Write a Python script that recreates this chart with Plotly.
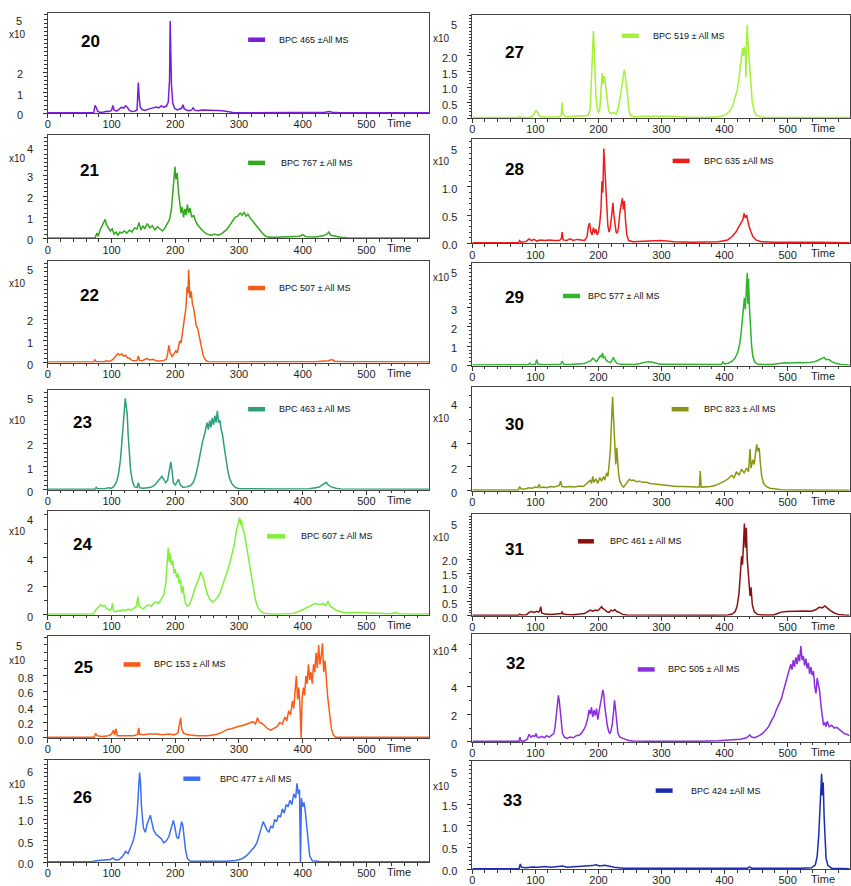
import plotly.graph_objects as go

# ---------------- chromatogram traces: (time, intensity) ----------------
P20 = [(0,0.02),(72,0.02),(74,0.38),(76,0.28),(78,0.1),(82,0.04),(88,0.06),(92,0.1),(96,0.08),(100,0.14),
       (102,0.38),(104,0.16),(108,0.1),(112,0.18),(116,0.3),(119,0.24),(122,0.36),(125,0.28),(128,0.14),
       (132,0.08),(136,0.1),(140,0.16),(142,1.5),(143.5,0.7),(145,0.3),(148,0.18),(152,0.14),(158,0.2),
       (164,0.24),(170,0.3),(174,0.26),(178,0.36),(182,0.3),(186,0.34),(189,0.55),(191,1.6),(192,4.5),
       (193,3.1),(194,1.4),(196,0.5),(199,0.24),(203,0.16),(207,0.2),(210,0.24),(212,0.42),(214,0.22),
       (218,0.14),(222,0.12),(226,0.16),(228,0.26),(231,0.14),(236,0.12),(242,0.16),(250,0.14),(258,0.15),
       (266,0.13),(274,0.12),(280,0.1),(286,0.06),(292,0.02),(330,0.02),(380,0.02),(395,0.04),(405,0.05),
       (415,0.03),(425,0.04),(435,0.05),(442,0.08),(446,0.05),(455,0.03),(465,0.02),(598,0.02)]

P21 = [(0,0.02),(74,0.02),(77,0.25),(79,0.1),(82,0.4),(85,0.6),(88,0.75),(90,0.9),(92,0.65),(95,0.5),
       (98,0.35),(101,0.45),(104,0.2),(107,0.3),(110,0.15),(113,0.3),(116,0.25),(120,0.35),(124,0.25),
       (128,0.4),(132,0.3),(136,0.5),(140,0.45),(143,0.75),(146,0.4),(149,0.6),(152,0.45),(156,0.7),
       (160,0.5),(164,0.6),(168,0.4),(172,0.55),(176,0.45),(180,0.35),(184,0.5),(188,0.7),(191,0.9),
       (194,1.4),(196,2.2),(198,3.0),(199.5,3.4),(201,2.8),(203,3.1),(205,2.2),(207,1.6),(209,1.2),
       (211,1.5),(213,1.0),(215,1.4),(217,1.1),(219,1.6),(221,1.2),(223,1.45),(226,1.0),(229,1.1),
       (232,0.8),(236,0.6),(240,0.45),(245,0.3),(250,0.2),(256,0.15),(262,0.2),(268,0.15),(274,0.25),
       (280,0.4),(285,0.6),(290,0.8),(294,1.0),(298,1.05),(302,1.2),(305,1.1),(308,1.25),(311,1.05),
       (314,1.15),(318,0.95),(322,0.8),(326,0.6),(330,0.45),(334,0.3),(338,0.2),(342,0.1),(348,0.05),
       (360,0.05),(380,0.06),(395,0.1),(400,0.18),(405,0.08),(420,0.07),(432,0.12),(438,0.2),(441,0.3),
       (444,0.15),(452,0.1),(460,0.05),(470,0.03),(598,0.02)]

P22 = [(0,0.02),(72,0.02),(74,0.12),(76,0.04),(88,0.04),(92,0.08),(96,0.05),(100,0.1),(104,0.2),(107,0.3),
       (110,0.42),(113,0.35),(116,0.4),(119,0.3),(122,0.34),(125,0.22),(128,0.2),(132,0.1),(136,0.08),
       (140,0.1),(142,0.3),(144,0.1),(148,0.08),(152,0.14),(156,0.18),(160,0.12),(165,0.15),(170,0.08),
       (176,0.07),(182,0.1),(186,0.15),(188,0.4),(190,0.8),(192,0.45),(195,0.28),(198,0.4),(201,0.55),
       (203,0.45),(205,0.75),(207,1.0),(209,0.9),(211,1.3),(213,1.6),(215,2.1),(217,2.6),(218.5,3.5),
       (220,3.2),(221,4.3),(222,3.8),(223,3.0),(225,3.3),(227,2.7),(229,2.5),(231,2.1),(233,1.7),
       (235,1.6),(237,1.3),(239,0.9),(241,0.6),(244,0.3),(248,0.1),(252,0.04),(300,0.03),(360,0.03),
       (420,0.04),(440,0.08),(446,0.14),(450,0.06),(470,0.04),(520,0.04),(555,0.03),(598,0.02)]

P23 = [(0,0.02),(74,0.02),(76,0.1),(78,0.04),(90,0.05),(96,0.08),(100,0.06),(104,0.15),(108,0.35),
       (111,0.7),(114,1.3),(116,1.9),(118,2.6),(120,3.4),(121.5,3.95),(123,3.6),(124.5,3.3),(126,2.4),
       (128,1.5),(130,0.8),(133,0.35),(136,0.12),(140,0.1),(142,0.3),(144,0.08),(150,0.06),(156,0.08),
       (162,0.1),(168,0.2),(172,0.35),(176,0.45),(179,0.58),(182,0.45),(185,0.3),(188,0.4),(191,1.0),
       (193,1.2),(195,0.8),(197,0.3),(200,0.2),(203,0.35),(205,0.45),(208,0.2),(212,0.1),(218,0.12),
       (224,0.18),(228,0.3),(232,0.6),(236,1.1),(240,1.7),(243,2.1),(246,2.4),(248,2.6),(250,2.9),
       (252,2.6),(254,3.0),(256,2.7),(258,3.1),(260,2.8),(262,3.2),(264,2.9),(266,3.4),(268,2.9),
       (270,3.0),(272,2.6),(274,2.4),(276,2.0),(279,1.4),(282,0.9),(285,0.5),(289,0.25),(294,0.1),
       (300,0.04),(360,0.03),(410,0.04),(425,0.1),(432,0.22),(437,0.32),(440,0.2),(445,0.12),(452,0.06),
       (460,0.03),(598,0.02)]

P24 = [(0,0.05),(72,0.05),(74,0.25),(77,0.45),(80,0.55),(83,0.7),(86,0.6),(89,0.65),(92,0.45),(95,0.35),
       (98,0.3),(100,0.5),(101.5,0.8),(103,0.3),(106,0.2),(110,0.3),(114,0.25),(118,0.35),(122,0.3),
       (126,0.4),(130,0.3),(134,0.45),(138,0.5),(140,0.9),(141.5,1.25),(143,0.6),(146,0.5),(150,0.4),
       (154,0.6),(158,0.7),(162,0.6),(166,0.8),(170,0.9),(174,0.8),(178,1.1),(182,1.4),(185,2.2),
       (187,3.3),(189,4.7),(190.5,3.7),(192,4.3),(194,3.5),(196,3.8),(198,2.9),(200,3.2),(202,2.6),
       (204,2.9),(206,2.2),(208,2.5),(210,1.5),(212,2.0),(214,1.3),(216,0.8),(219,0.6),(222,0.7),
       (225,1.0),(228,1.5),(231,1.9),(234,2.2),(237,2.5),(240,3.0),(242,2.8),(244,2.6),(247,2.0),
       (250,1.5),(254,1.1),(258,0.9),(262,1.0),(266,1.2),(270,1.5),(274,2.0),(278,2.6),(282,3.1),
       (286,3.7),(290,4.4),(293,5.0),(296,5.9),(299,6.4),(301,6.8),(302.5,6.3),(304,6.6),(306,6.0),
       (308,5.8),(310,5.3),(313,4.5),(316,3.6),(319,2.6),(322,1.8),(326,1.0),(330,0.5),(334,0.25),
       (340,0.1),(350,0.06),(370,0.06),(385,0.1),(395,0.25),(402,0.4),(408,0.55),(414,0.7),(420,0.8),
       (426,0.7),(432,0.8),(436,0.65),(440,0.95),(443,0.6),(448,0.45),(454,0.3),(460,0.2),(470,0.15),
       (480,0.17),(495,0.15),(510,0.12),(525,0.1),(540,0.08),(546,0.18),(550,0.08),(570,0.05),(590,0.04),
       (598,0.05)]

P25 = [(0,0.01),(73,0.01),(75,0.06),(77,0.03),(85,0.02),(95,0.03),(100,0.05),(103,0.1),(105,0.04),
       (107,0.12),(109,0.03),(120,0.03),(135,0.03),(141,0.05),(142.5,0.13),(144,0.05),(150,0.04),
       (160,0.05),(170,0.05),(180,0.04),(190,0.05),(198,0.04),(204,0.06),(207,0.2),(208.5,0.26),
       (210,0.12),(213,0.06),(220,0.04),(235,0.03),(250,0.03),(262,0.04),(270,0.06),(276,0.09),
       (282,0.11),(288,0.12),(294,0.14),(300,0.15),(306,0.16),(312,0.18),(318,0.19),(322,0.21),
       (326,0.18),(329,0.26),(332,0.2),(336,0.19),(340,0.16),(345,0.12),(350,0.1),(355,0.12),(360,0.15),
       (364,0.2),(368,0.18),(372,0.27),(375,0.22),(378,0.35),(381,0.3),(384,0.48),(386,0.38),(388,0.6),
       (390,0.8),(392,0.5),(394,0.65),(396,0.35),(397.5,0.0),(399,0.5),(401,0.65),(403,0.55),(405,0.8),
       (407,0.7),(409,0.95),(411,0.75),(413,0.85),(415,0.7),(417,0.95),(419,0.85),(421,1.1),(423,0.9),
       (425,1.2),(427,0.95),(429,1.05),(431,1.22),(433,0.85),(435,1.0),(437,0.7),(439,0.55),(441,0.4),
       (443,0.25),(445,0.12),(448,0.04),(452,0.01),(598,0.01)]

P26 = [(0,0.01),(70,0.01),(75,0.03),(90,0.04),(98,0.06),(102,0.1),(106,0.05),(112,0.06),(118,0.15),
       (122,0.25),(126,0.2),(130,0.35),(134,0.5),(137,0.7),(140,1.1),(142,1.6),(144,2.1),(145.5,1.85),
       (147,1.3),(150,0.8),(153,0.7),(156,0.9),(159,1.05),(161,1.1),(163,0.95),(166,0.75),(170,0.65),
       (174,0.6),(178,0.55),(182,0.45),(186,0.5),(190,0.6),(194,0.8),(197,0.98),(199,0.85),(202,0.6),
       (205,0.55),(208,0.8),(210,0.95),(212,0.85),(214,0.6),(216,0.3),(219,0.08),(224,0.02),(280,0.02),
       (295,0.04),(305,0.08),(312,0.15),(318,0.25),(324,0.35),(328,0.45),(332,0.65),(335,0.8),(338,0.95),
       (341,0.85),(344,0.75),(347,0.7),(350,0.85),(353,0.8),(356,1.0),(359,0.95),(362,1.1),(365,1.05),
       (368,1.25),(371,1.15),(374,1.35),(377,1.3),(380,1.45),(383,1.35),(386,1.6),(389,1.5),(391,1.85),
       (393,1.6),(395,1.7),(396.5,0.0),(398,1.5),(400,1.3),(402,1.4),(404,1.2),(406,0.9),(408,0.5),
       (411,0.15),(415,0.03),(430,0.01),(598,0.01)]

P27 = [(0,0.02),(73,0.02),(75,0.06),(77,0.02),(92,0.03),(96,0.08),(99,0.18),(101,0.24),(103,0.2),
       (106,0.08),(110,0.04),(125,0.04),(138,0.05),(141,0.1),(142.5,0.5),(144,0.12),(148,0.05),(160,0.06),
       (170,0.08),(178,0.07),(184,0.1),(187,0.3),(189,1.2),(190.5,2.2),(192,2.8),(193,2.4),(194.5,1.5),
       (196,0.7),(198,0.3),(200,0.2),(202,0.25),(204,0.9),(206,1.45),(207.5,1.1),(209,1.35),(210.5,1.2),
       (212,0.9),(214,0.5),(216,0.25),(219,0.15),(224,0.18),(228,0.14),(231,0.3),(234,0.6),(237,1.0),
       (239,1.35),(241,1.55),(243,1.3),(245,0.9),(247,0.5),(249,0.2),(252,0.07),(258,0.05),(270,0.06),
       (290,0.07),(310,0.06),(325,0.05),(340,0.03),(380,0.03),(395,0.06),(402,0.12),(408,0.22),(413,0.4),
       (417,0.65),(420,0.9),(423,1.3),(425,1.6),(427,2.0),(428.5,2.25),(430,2.0),(431.5,2.3),(433,2.1),
       (434,1.3),(435,2.5),(436,3.0),(437,2.5),(438.5,2.1),(440,1.4),(442,0.9),(444,0.5),(447,0.25),
       (450,0.1),(456,0.05),(465,0.02),(598,0.02)]

P28 = [(0,0.01),(73,0.01),(75,0.05),(77,0.02),(85,0.03),(90,0.08),(94,0.05),(98,0.07),(102,0.04),
       (108,0.06),(115,0.05),(122,0.06),(130,0.05),(138,0.05),(141,0.08),(142.5,0.2),(144,0.06),(150,0.05),
       (155,0.08),(160,0.05),(166,0.07),(172,0.06),(178,0.05),(182,0.12),(184,0.3),(186,0.36),(188,0.2),
       (190,0.15),(192,0.28),(194,0.18),(196,0.25),(198,0.15),(200,0.2),(202,0.35),(204,0.6),(205.5,1.1),
       (207,0.9),(208.5,1.68),(210,1.3),(211.5,0.9),(213,0.6),(215,0.3),(217,0.2),(219,0.3),(221,0.5),
       (223,0.72),(224.5,0.5),(226,0.4),(228,0.2),(230,0.18),(232,0.3),(234,0.55),(236,0.7),(238,0.8),
       (239.5,0.6),(241,0.75),(243,0.4),(245,0.15),(248,0.05),(255,0.03),(280,0.04),(300,0.05),(320,0.03),
       (350,0.02),(390,0.03),(405,0.06),(412,0.12),(418,0.2),(422,0.28),(426,0.35),(429,0.42),(431,0.53),
       (433,0.45),(435,0.5),(437,0.38),(439,0.3),(442,0.2),(445,0.12),(450,0.06),(458,0.03),(480,0.02),
       (530,0.02),(545,0.03),(550,0.02),(598,0.01)]

P29 = [(0,0.03),(76,0.03),(80,0.05),(88,0.04),(91,0.12),(94,0.04),(100,0.06),(102,0.3),(104,0.08),
       (112,0.04),(130,0.05),(140,0.06),(142.5,0.22),(145,0.06),(155,0.05),(170,0.06),(178,0.1),(184,0.2),
       (188,0.25),(191,0.38),(194,0.3),(197,0.2),(200,0.35),(203,0.5),(205,0.45),(206.5,0.65),(208,0.4),
       (210,0.45),(212,0.3),(215,0.2),(219,0.15),(222,0.3),(224,0.42),(226,0.25),(229,0.12),(235,0.06),
       (245,0.05),(258,0.05),(266,0.1),(272,0.15),(278,0.2),(284,0.18),(290,0.12),(298,0.07),(310,0.06),
       (330,0.05),(360,0.05),(385,0.05),(395,0.07),(397.5,0.18),(400,0.08),(406,0.12),(412,0.22),
       (417,0.4),(421,0.7),(424,1.1),(426,1.6),(428,2.2),(430,3.0),(431.5,3.5),(433,2.9),(434.5,3.7),
       (436,4.8),(437,3.2),(438,4.5),(439.5,3.0),(441,2.0),(443,1.0),(445,0.45),(448,0.18),(452,0.08),
       (460,0.05),(475,0.05),(482,0.08),(488,0.12),(495,0.14),(505,0.13),(515,0.16),(525,0.14),
       (535,0.15),(545,0.22),(550,0.3),(555,0.35),(558,0.42),(561,0.3),(565,0.32),(570,0.2),(576,0.12),
       (585,0.05),(598,0.03)]

P30 = [(0,0.05),(73,0.05),(75,0.35),(77,0.15),(82,0.12),(86,0.2),(90,0.25),(95,0.2),(100,0.3),(104,0.25),
       (106,0.55),(108,0.25),(113,0.3),(118,0.25),(124,0.35),(130,0.3),(135,0.4),(138,0.45),(140,0.8),
       (142,0.35),(148,0.3),(155,0.35),(162,0.3),(170,0.4),(176,0.35),(180,0.5),(184,0.7),(187,0.9),
       (189,0.6),(191,1.2),(193,0.7),(196,1.0),(199,0.6),(202,1.1),(205,0.8),(208,1.2),(210,0.9),
       (213,1.5),(215,1.2),(217,2.2),(219,3.5),(220.5,5.5),(221.5,6.8),(222.5,7.9),(223.5,6.6),
       (224.5,5.2),(226,3.0),(227.5,2.2),(229,3.6),(230.5,2.4),(232,1.4),(234,0.8),(237,0.45),(240,0.3),
       (243,0.5),(246,0.8),(249,0.95),(252,0.85),(256,0.9),(260,0.75),(265,0.8),(270,0.7),(276,0.7),
       (282,0.6),(290,0.55),(298,0.5),(306,0.42),(315,0.4),(325,0.35),(335,0.35),(345,0.3),(355,0.3),
       (360,0.3),(361.5,1.65),(363,0.3),(370,0.3),(378,0.35),(386,0.45),(393,0.6),(400,0.8),(406,1.0),
       (411,1.3),(415,1.1),(419,1.6),(423,1.3),(427,1.8),(431,1.5),(435,1.9),(438,1.6),(440.5,3.5),
       (442,1.9),(445,2.6),(447,2.2),(449,3.2),(451,3.9),(453,3.3),(455,3.6),(457,2.2),(459,1.2),
       (462,0.6),(466,0.35),(472,0.2),(480,0.12),(490,0.08),(510,0.06),(530,0.05),(560,0.06),(575,0.04),
       (598,0.03)]

P31 = [(0,0.02),(73,0.02),(75,0.06),(78,0.03),(86,0.04),(90,0.12),(94,0.15),(98,0.12),(102,0.16),
       (105,0.13),(107,0.18),(108.5,0.32),(110,0.1),(115,0.06),(125,0.05),(135,0.06),(141,0.08),
       (142.5,0.15),(144,0.06),(150,0.05),(160,0.04),(170,0.06),(178,0.08),(183,0.15),(187,0.2),
       (191,0.16),(195,0.2),(199,0.18),(202,0.24),(205,0.32),(207,0.25),(210,0.22),(213,0.15),(217,0.12),
       (220,0.2),(223,0.17),(226,0.22),(229,0.15),(233,0.12),(238,0.05),(245,0.03),(300,0.02),(380,0.02),
       (405,0.03),(412,0.06),(417,0.15),(420,0.35),(423,0.8),(425,1.4),(427,2.1),(428.5,1.8),(430,2.6),
       (431.5,3.25),(433,2.4),(434.5,3.1),(436,2.0),(437.5,1.5),(439,1.0),(440.5,0.7),(442,1.0),
       (444,0.4),(447,0.15),(452,0.05),(460,0.03),(478,0.03),(484,0.08),(490,0.13),(498,0.15),(508,0.16),
       (518,0.15),(528,0.17),(538,0.16),(545,0.22),(550,0.3),(555,0.28),(559,0.35),(563,0.26),(568,0.18),
       (574,0.1),(580,0.05),(590,0.03),(598,0.02)]

P32 = [(0,0.05),(74,0.05),(75.5,0.35),(77,0.08),(82,0.06),(87,0.2),(90,0.55),(93,0.35),(96,0.45),
       (99,0.4),(101,0.6),(103,0.35),(106,0.3),(110,0.4),(114,0.3),(118,0.45),(122,0.35),(126,0.5),
       (129,0.6),(131,1.0),(133,1.8),(135,2.7),(136.5,3.35),(138,2.9),(139.5,2.1),(141,1.2),(143,0.6),
       (146,0.35),(150,0.25),(155,0.35),(160,0.3),(165,0.45),(170,0.5),(174,0.7),(177,0.9),(180,1.2),
       (183,1.7),(185,2.3),(187,2.0),(189,2.5),(191,1.8),(193,2.3),(195,1.9),(197,2.4),(199,1.6),
       (201,2.2),(203,2.6),(205,3.2),(207,3.75),(208.5,3.4),(210,2.6),(212,1.8),(214,1.2),(216,0.8),
       (218,0.6),(220,0.8),(222,1.3),(224,2.2),(225.5,3.0),(227,2.4),(229,1.3),(231,0.6),(234,0.35),
       (238,0.3),(242,0.2),(248,0.1),(255,0.06),(280,0.05),(320,0.04),(360,0.05),(390,0.08),(410,0.12),
       (425,0.2),(435,0.3),(440,0.5),(443,0.35),(448,0.3),(455,0.45),(460,0.6),(465,0.85),(470,1.1),
       (474,1.5),(478,1.8),(482,2.3),(486,2.7),(490,3.1),(493,3.6),(496,4.1),(499,4.7),(502,5.0),
       (505,5.6),(507,5.2),(509,5.9),(511,5.4),(513,6.1),(515,5.6),(517,6.3),(519,5.8),(521,6.9),
       (523,5.9),(525,6.2),(527,5.5),(529,6.0),(531,5.3),(533,5.7),(535,4.9),(537,5.4),(539,4.8),
       (541,5.1),(543,4.0),(545,3.5),(547,4.6),(549,4.2),(551,3.6),(553,2.6),(555,1.8),(557,1.2),
       (559,1.4),(561,1.1),(563,1.5),(566,1.1),(570,1.2),(574,1.0),(578,1.05),(582,0.9),(586,0.75),
       (590,0.6),(594,0.55),(598,0.45)]

P33 = [(0,0.01),(74,0.01),(76,0.12),(78,0.04),(85,0.03),(95,0.05),(105,0.04),(115,0.06),(125,0.04),
       (135,0.05),(143,0.07),(150,0.04),(165,0.05),(180,0.06),(190,0.08),(196,0.1),(202,0.07),(210,0.09),
       (218,0.06),(225,0.04),(240,0.02),(300,0.02),(400,0.02),(436,0.02),(440,0.05),(443,0.02),(520,0.02),
       (538,0.03),(544,0.1),(547,0.3),(549.5,0.8),(551,1.3),(552.5,1.9),(554,2.2),(555,1.7),(556.5,2.0),
       (558,1.2),(559.5,0.6),(561,0.25),(564,0.08),(570,0.02),(598,0.01)]

PANELS = ["20", "21", "22", "23", "24", "25", "26", "27", "28", "29", "30", "31", "32", "33"]
SERIES = {"20": P20, "21": P21, "22": P22, "23": P23, "24": P24, "25": P25, "26": P26,
          "27": P27, "28": P28, "29": P29, "30": P30, "31": P31, "32": P32, "33": P33}
LEGEND = {"20": "BPC 465 ±All MS", "21": "BPC 767 ± All MS", "22": "BPC 507 ± All MS",
          "23": "BPC 463 ± All MS", "24": "BPC 607 ± All MS", "25": "BPC 153 ± All MS",
          "26": "BPC 477 ± All MS", "27": "BPC 519 ± All MS", "28": "BPC 635 ±All MS",
          "29": "BPC 577 ± All MS", "30": "BPC 823 ± All MS", "31": "BPC 461 ± All MS",
          "32": "BPC 505 ± All MS", "33": "BPC 424 ±All MS"}
# intensity axis: top of range, labelled ticks, power-of-ten exponent
Y_MAX = {"20": 4.9, "21": 4.9, "22": 4.7, "23": 4.3, "24": 7.3, "25": 1.32, "26": 2.4,
         "27": 3.32, "28": 1.85, "29": 5.3, "30": 8.7, "31": 3.57, "32": 7.8, "33": 2.5}
Y_TICKS = {"20": [0, 1, 2], "21": [0, 1, 2, 3], "22": [0, 1, 2], "23": [0, 1, 2], "24": [0, 2, 4],
           "25": [0.0, 0.2, 0.4, 0.6, 0.8], "26": [0.0, 0.5, 1.0, 1.5],
           "27": [0.0, 0.5, 1.0, 1.5, 2.0], "28": [0.0, 0.5, 1.0], "29": [0, 1, 2, 3],
           "30": [0, 2, 4], "31": [0.0, 0.5, 1.0, 1.5, 2.0], "32": [0, 2, 4], "33": [0.0, 0.5, 1.0, 1.5]}
DECIMAL = {"25", "26", "27", "28", "31", "33"}
Y_EXP = {"20": "5", "21": "4", "22": "5", "23": "5", "24": "4", "25": "5", "26": "6",
         "27": "5", "28": "5", "29": "5", "30": "4", "31": "5", "32": "4", "33": "5"}
X_TICKS = [0, 100, 200, 300, 400, 500]
X_LABEL = "Time"

COLORS = {"20": "#7a1ed6", "21": "#33a81f", "22": "#f25c19", "23": "#2e9e7c", "24": "#80ef3a",
          "25": "#fb5b14", "26": "#3d6df2", "27": "#a6ef3a", "28": "#ee1c1c", "29": "#2fb52a",
          "30": "#8c9614", "31": "#8a0f0f", "32": "#8a2ee0", "33": "#1c2bb0"}

# ---------------- page geometry (pixels) ----------------
W, H = 851, 886
COL_X = [(45, 428), (471, 850)]
# column, box top, box bottom
BOX = {"20": (0, 13, 114), "21": (0, 136, 240), "22": (0, 263, 365), "23": (0, 393, 493),
       "24": (0, 514, 619), "25": (0, 640, 743), "26": (0, 765, 868),
       "27": (1, 15, 119), "28": (1, 140, 245), "29": (1, 265, 368), "30": (1, 390, 494),
       "31": (1, 518, 620), "32": (1, 638, 747), "33": (1, 766, 875)}
# fractional heights of the exponent digit and the "x10" text
EXP_POS = {"20": (0.92, 0.785), "21": (0.87, 0.77), "22": (0.91, 0.78), "23": (0.91, 0.70),
           "24": (0.91, 0.80), "25": (0.90, 0.76), "26": (0.88, 0.76), "27": (0.90, 0.77),
           "28": (0.895, 0.78), "29": (0.90, 0.86), "30": (0.83, 0.70), "31": (0.90, 0.77),
           "32": (0.87, 0.84), "33": (0.89, 0.76)}
NUM_OFF = {"20": 23}
EXP_OFF = {"20": 24, "25": 24}
Y_MINOR = {"20": 0.2, "21": 0.2, "22": 0.2, "23": 0.2, "24": 1, "25": 0.1, "26": 0.1,
           "27": 0.1, "28": 0.1, "29": 0.2, "30": 1, "31": 0.1, "32": 1, "33": 0.1}
# panel number centre, legend swatch (x0, x1, y), legend text start
TAG = {"20": (88, 42), "21": (87, 172), "22": (87, 298), "23": (80, 425), "24": (80, 548),
       "25": (81, 672), "26": (80, 803), "27": (513, 53), "28": (513, 171), "29": (513, 300),
       "30": (513, 427), "31": (513, 553), "32": (514, 668), "33": (511, 806)}
SWATCH = {"20": (246, 263, 40, 275), "21": (246, 263, 164, 277), "22": (246, 263, 290, 275),
          "23": (246, 263, 412, 275), "24": (265, 283, 540, 297), "25": (121, 138, 669, 150),
          "26": (181, 198, 784, 216), "27": (621, 638, 36, 650), "28": (672, 689, 162, 701),
          "29": (562, 579, 298, 585), "30": (671, 688, 412, 701), "31": (577, 593, 545, 607),
          "32": (637, 654, 674, 665), "33": (655, 672, 796, 688)}

FONT = "Liberation Sans, Arial, Helvetica, sans-serif"
INK = "#1e1e1e"


def px_x(p):
    return p / W


def px_y(p):
    return 1 - p / H


fig = go.Figure()
annotations = []
shapes = []

for i, key in enumerate(PANELS, start=1):
    sfx = "" if i == 1 else str(i)
    col, top, bot = BOX[key]
    x0, x1 = COL_X[col]
    pts = SERIES[key]

    fig.add_trace(go.Scatter(
        x=[p[0] for p in pts], y=[p[1] for p in pts], mode="lines",
        line=dict(color=COLORS[key], width=1.5), xaxis="x" + sfx, yaxis="y" + sfx,
        showlegend=False, hoverinfo="skip"))

    fig.layout["xaxis" + sfx] = dict(
        domain=[px_x(x0), px_x(x1)], range=[0, 599], anchor="y" + sfx,
        tickmode="array", tickvals=X_TICKS, ticktext=[str(v) for v in X_TICKS],
        ticks="outside", ticklen=4, tickwidth=1, tickcolor="#333", ticklabelstandoff=-3,
        minor=dict(tick0=0, dtick=20, ticks="outside", ticklen=2.5, tickcolor="#333"),
        tickfont=dict(family=FONT, size=11, color=INK),
        showline=True, linecolor="#444", linewidth=1, mirror=True,
        showgrid=False, zeroline=False, fixedrange=True)

    fig.layout["yaxis" + sfx] = dict(
        domain=[px_y(bot), px_y(top)], range=[0, Y_MAX[key]], anchor="x" + sfx,
        tickmode="array", tickvals=Y_TICKS[key], showticklabels=False,
        ticks="outside", ticklen=4, tickwidth=1, tickcolor="#333",
        minor=dict(tick0=0, dtick=Y_MINOR[key], ticks="outside", ticklen=2.5, tickcolor="#333"),
        showline=True, linecolor="#444", linewidth=1, mirror=True,
        showgrid=False, zeroline=False, fixedrange=True)

    # intensity tick labels
    num_right = x0 - NUM_OFF.get(key, 13)
    for v in Y_TICKS[key]:
        txt = f"{v:.1f}" if key in DECIMAL else str(int(v))
        annotations.append(dict(
            x=px_x(num_right), xref="paper", y=v, yref="y" + sfx, text=txt,
            xanchor="right", yanchor="middle", yshift=-2, showarrow=False,
            font=dict(family=FONT, size=11, color=INK)))
    exp_f, x10_f = EXP_POS[key]
    annotations.append(dict(
        x=px_x(x0 - EXP_OFF.get(key, 13)), xref="paper", y=exp_f, yref="y" + sfx + " domain",
        text=Y_EXP[key], xanchor="right", yanchor="middle", showarrow=False,
        font=dict(family=FONT, size=11, color=INK)))
    annotations.append(dict(
        x=px_x(x0 - 20), xref="paper", y=x10_f, yref="y" + sfx + " domain",
        text="x10", xanchor="right", yanchor="middle", showarrow=False,
        font=dict(family=FONT, size=10, color=INK)))

    # time axis caption
    annotations.append(dict(
        x=551 if col == 0 else 556, xref="x" + sfx, y=0, yref="y" + sfx + " domain",
        text=X_LABEL, xanchor="center", yanchor="top", yshift=-2, showarrow=False,
        font=dict(family=FONT, size=11, color=INK)))

    # sample number
    tx, ty = TAG[key]
    annotations.append(dict(
        x=px_x(tx), xref="paper", y=px_y(ty), yref="paper", text=f"<b>{key}</b>",
        xanchor="center", yanchor="middle", showarrow=False,
        font=dict(family=FONT, size=17, color="#000")))

    # legend swatch and text
    sx0, sx1, sy, stx = SWATCH[key]
    shapes.append(dict(type="line", xref="paper", yref="paper",
                       x0=px_x(sx0), x1=px_x(sx1), y0=px_y(sy), y1=px_y(sy),
                       line=dict(color=COLORS[key], width=4.5)))
    annotations.append(dict(
        x=px_x(stx), xref="paper", y=px_y(sy), yref="paper", text=LEGEND[key],
        xanchor="left", yanchor="middle", showarrow=False,
        font=dict(family=FONT, size=9, color="#111")))

fig.update_layout(
    width=W, height=H, margin=dict(l=0, r=0, t=0, b=0),
    paper_bgcolor="white", plot_bgcolor="white",
    annotations=annotations, shapes=shapes, showlegend=False,
    font=dict(family=FONT))

fig.write_html("out.html", config={"displayModeBar": False})
